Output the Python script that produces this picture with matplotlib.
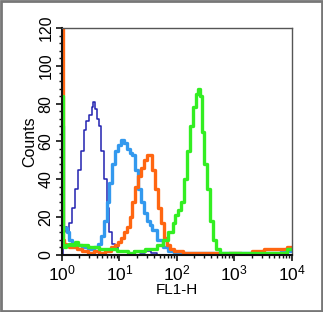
import matplotlib
matplotlib.use("Agg")
import matplotlib.pyplot as plt
from matplotlib.ticker import MultipleLocator, LogLocator, NullFormatter
from matplotlib.patches import Rectangle
import numpy as np

plt.rcParams['font.family'] = ['Liberation Sans', 'DejaVu Sans']
plt.rcParams['mathtext.fontset'] = 'custom'
plt.rcParams['mathtext.rm'] = 'Liberation Sans'
plt.rcParams['mathtext.it'] = 'Liberation Sans'

# log10(FL1-H) positions and counts for each histogram
navy_log = [0.00, 0.03, 0.06, 0.10, 0.15, 0.20, 0.25, 0.30, 0.35, 0.40, 0.45, 0.50, 0.53, 0.56, 0.59,
            0.62, 0.66, 0.70, 0.75, 0.80, 0.85, 0.90, 0.95, 1.00, 1.10, 1.20, 1.30, 1.40, 1.50, 1.60,
            1.70, 2.00, 2.50, 3.00, 3.50, 4.00]
navy_cnt = [0, 12, 15, 12, 17, 25, 35, 45, 55, 66, 71, 74, 78, 81, 77,
            72, 68, 55, 40, 25, 12, 6, 4, 2, 2, 1, 2, 1, 2, 1,
            0, 0, 0, 0, 0, 0]

blue_log = [0.00, 0.02, 0.06, 0.10, 0.15, 0.20, 0.30, 0.40, 0.50, 0.60, 0.65, 0.70, 0.75, 0.80, 0.85,
            0.90, 0.95, 1.00, 1.05, 1.10, 1.15, 1.20, 1.25, 1.30, 1.35, 1.40, 1.45, 1.50, 1.55, 1.60,
            1.70, 1.80, 1.90, 2.00, 2.50, 3.00, 3.50, 4.00]
blue_cnt = [68, 15, 14, 12, 8, 6, 5, 4, 3, 4, 6, 10, 18, 28, 38,
            48, 55, 58, 61, 59, 56, 54, 53, 45, 35, 28, 22, 18, 16, 13,
            8, 4, 2, 1, 1, 1, 1, 2]

orange_log = [0.00, 0.02, 0.05, 0.10, 0.15, 0.20, 0.30, 0.40, 0.50, 0.60, 0.70, 0.80, 0.90, 0.95, 1.00,
              1.05, 1.10, 1.15, 1.20, 1.25, 1.30, 1.35, 1.40, 1.45, 1.50, 1.55, 1.60, 1.65, 1.70, 1.75,
              1.80, 1.85, 1.90, 2.00, 2.20, 2.40, 2.60, 2.80, 3.00, 3.20, 3.40, 3.60, 3.80, 4.00]
orange_cnt = [122, 8, 6, 5, 4, 4, 3, 2, 1, 2, 1, 2, 4, 5, 7,
              9, 12, 15, 20, 28, 36, 42, 46, 50, 53, 53, 45, 35, 25, 17,
              9, 5, 3, 2, 1, 1, 1, 0, 1, 0, 2, 3, 3, 4]

green_log = [0.00, 0.02, 0.05, 0.10, 0.15, 0.20, 0.25, 0.30, 0.40, 0.50, 0.60, 0.70, 0.80, 0.90, 1.00,
             1.10, 1.20, 1.30, 1.40, 1.50, 1.60, 1.70, 1.80, 1.90, 1.95, 2.00, 2.05, 2.10, 2.15, 2.20,
             2.25, 2.30, 2.35, 2.38, 2.42, 2.46, 2.50, 2.55, 2.60, 2.65, 2.70, 2.80, 3.00, 3.50, 3.80, 4.00]
green_cnt = [84, 5, 4, 5, 6, 5, 7, 5, 5, 4, 4, 3, 3, 3, 2,
             2, 1, 2, 2, 3, 3, 5, 8, 12, 17, 21, 24, 28, 40, 55,
             68, 78, 85, 88, 84, 65, 48, 35, 18, 8, 3, 1, 1, 1, 1, 3]

xticks = [1, 10, 100, 1000, 10000]
xtick_labels = [r'$10^{0}$', r'$10^{1}$', r'$10^{2}$', r'$10^{3}$', r'$10^{4}$']
yticks = [0, 20, 40, 60, 80, 100, 120]

fig = plt.figure(figsize=(3.23, 3.12), dpi=100)
ax = fig.add_axes([0.192, 0.183, 0.711, 0.727])

series = [
    (navy_log, navy_cnt, '#2222b0', 1.1),
    (blue_log, blue_cnt, '#3399ee', 2.4),
    (orange_log, orange_cnt, '#ff6611', 2.4),
    (green_log, green_cnt, '#33ee22', 2.4),
]
for lx, cnt, col, lw in series:
    x = np.power(10.0, np.array(lx))
    ax.step(x, cnt, where='mid', color=col, lw=lw, clip_on=True)

ax.set_xscale('log')
ax.set_xlim(1, 10000)
ax.set_ylim(0, 120)
ax.set_xticks(xticks)
ax.set_xticklabels(xtick_labels, fontsize=12.5)
ax.xaxis.set_minor_locator(LogLocator(base=10, subs=np.arange(2, 10)))
ax.xaxis.set_minor_formatter(NullFormatter())
ax.set_yticks(yticks)
ax.set_yticklabels([str(v) for v in yticks], fontsize=11.5, rotation=90, va='center')
ax.yaxis.set_minor_locator(MultipleLocator(4))

ax.tick_params(axis='both', which='major', direction='out', length=4, width=1.2, color='#111111', pad=2)
ax.tick_params(axis='both', which='minor', direction='out', length=2.5, width=1.0, color='#111111')
for s in ax.spines.values():
    s.set_color('#555555')
    s.set_linewidth(1.0)
ax.spines['left'].set_color('#111111')
ax.spines['bottom'].set_color('#111111')
ax.spines['left'].set_linewidth(1.5)
ax.spines['bottom'].set_linewidth(1.5)

ax.set_xlabel('FL1-H', fontsize=11, labelpad=0)
ax.set_ylabel('Counts', fontsize=11.5, labelpad=1)

fig.patches.append(Rectangle((0.003, 0.004), 0.994, 0.992, transform=fig.transFigure,
                             fill=False, edgecolor='#777777', linewidth=2.0))

fig.savefig('out.png', dpi=100)
